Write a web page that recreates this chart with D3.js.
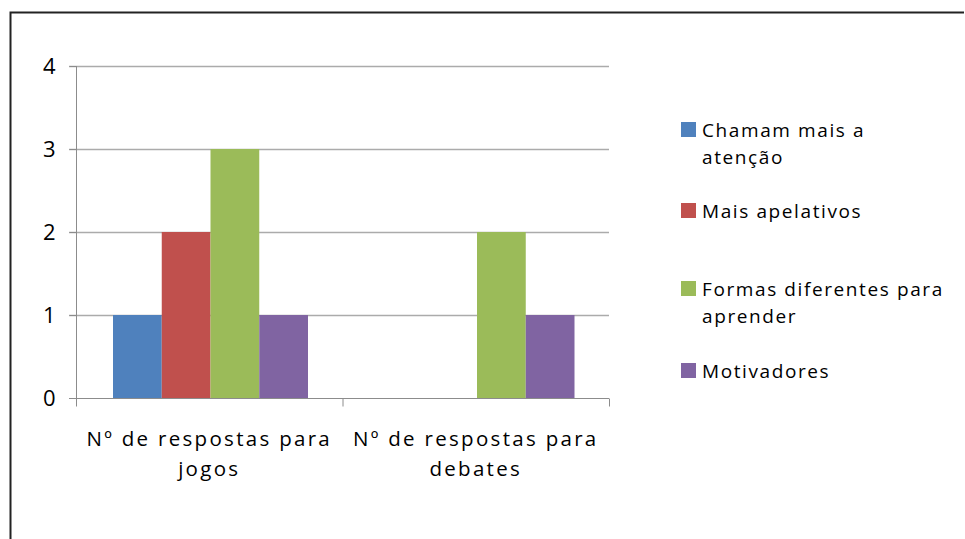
<!DOCTYPE html>
<html>
<head>
<meta charset="utf-8">
<script src="https://cdn.jsdelivr.net/npm/d3@7"></script>
<style>
  body { margin: 0; background: #fff; }
  svg text { font-family: "Open Sans", "Noto Sans", sans-serif; fill: #000; }
</style>
</head>
<body>
<svg width="965" height="539"></svg>
<script>
const categories = [["Nº de respostas para", "jogos"], ["Nº de respostas para", "debates"]]
const seriesNames = [["Chamam mais a", "atenção"], ["Mais apelativos"], ["Formas diferentes para", "aprender"], ["Motivadores"]]
const seriesColors = ["#4F81BD", "#C0504D", "#9BBB59", "#8064A2"]
const jogosValues = [1, 2, 3, 1]
const debatesValues = [0, 0, 2, 1]
const yTicks = [0, 1, 2, 3, 4]

const values = [jogosValues, debatesValues]

const svg = d3.select("svg")

// outer frame (only top and left are visible in the crop)
svg.append("path")
  .attr("d", "M10.5,539 V12.5 H964")
  .attr("fill", "none")
  .attr("stroke", "#222")
  .attr("stroke-width", 2)

const plot = { left: 76, right: 609, top: 66, bottom: 398 }

const x0 = d3.scaleBand()
  .domain(d3.range(categories.length))
  .range([plot.left, plot.right])

// bars sit in the middle of each category band
const x1 = d3.scaleBand()
  .domain(d3.range(seriesNames.length))
  .range([37, x0.bandwidth() - 34.5])

const y = d3.scaleLinear().domain([0, 4]).range([plot.bottom, plot.top])

// gridlines
svg.append("g")
  .selectAll("line")
  .data(yTicks.filter((t) => t > 0))
  .enter()
  .append("line")
  .attr("x1", plot.left - 7)
  .attr("x2", plot.right)
  .attr("y1", (t) => Math.round(y(t)) + 0.5)
  .attr("y2", (t) => Math.round(y(t)) + 0.5)
  .attr("stroke", "#ABABAB")
  .attr("stroke-width", 1.3)

// bars
categories.forEach((cat, ci) => {
  svg.append("g")
    .selectAll("rect")
    .data(values[ci])
    .enter()
    .append("rect")
    .attr("x", (v, si) => x0(ci) + x1(si))
    .attr("width", x1.bandwidth())
    .attr("y", (v) => y(v))
    .attr("height", (v) => y(0) - y(v))
    .attr("fill", (v, si) => seriesColors[si])
})

// y axis
const yAxis = svg.append("g")
  .attr("transform", `translate(${plot.left + 0.5},0)`)
  .call(d3.axisLeft(y).tickValues(yTicks).tickSize(7).tickPadding(14).tickFormat(d3.format("d")))
yAxis.select(".domain").attr("stroke", "#8C8C8C").attr("d", `M0,${plot.top}V${plot.bottom}`)
yAxis.selectAll(".tick line").attr("stroke", "#8C8C8C")
yAxis.selectAll(".tick text")
  .attr("font-size", 22)
  .attr("dy", "0.36em")
  .style("font-family", "'Open Sans', sans-serif")

// x axis baseline and category ticks
const xAxis = svg.append("g")
  .attr("transform", `translate(0,${plot.bottom + 0.5})`)
xAxis.append("line")
  .attr("x1", plot.left - 7).attr("x2", plot.right)
  .attr("stroke", "#8C8C8C")
xAxis.selectAll(".ctick")
  .data(d3.range(categories.length + 1))
  .enter()
  .append("line")
  .attr("x1", (i) => (i < categories.length ? x0(i) : plot.right) + 0.5)
  .attr("x2", (i) => (i < categories.length ? x0(i) : plot.right) + 0.5)
  .attr("y1", 0).attr("y2", 8)
  .attr("stroke", "#8C8C8C")

const catLabels = svg.append("g")
  .selectAll("text")
  .data(categories)
  .enter()
  .append("text")
  .attr("text-anchor", "middle")
  .attr("font-size", 20.5)
  .attr("letter-spacing", 2.3)
  .attr("x", (c, i) => x0(i) + x0.bandwidth() / 2)
  .attr("y", 446)
catLabels.selectAll("tspan")
  .data((c) => c)
  .enter()
  .append("tspan")
  .attr("x", function () { return this.parentNode.getAttribute("x") })
  .attr("dy", (l, i) => (i === 0 ? 0 : 30))
  .text((l) => l)

// legend
const legendTops = [122, 203, 281, 363]
const legend = svg.append("g")
  .selectAll("g")
  .data(seriesNames)
  .enter()
  .append("g")
  .attr("transform", (s, i) => `translate(681,${legendTops[i]})`)
legend.append("rect")
  .attr("width", 15).attr("height", 15)
  .attr("fill", (s, i) => seriesColors[i])
const legendText = legend.append("text")
  .attr("x", 21)
  .attr("y", 15)
  .attr("font-size", 19)
  .attr("letter-spacing", 1.6)
legendText.selectAll("tspan")
  .data((s) => s)
  .enter()
  .append("tspan")
  .attr("x", 21)
  .attr("dy", (l, i) => (i === 0 ? 0 : 27))
  .text((l) => l)
</script>
</body>
</html>
